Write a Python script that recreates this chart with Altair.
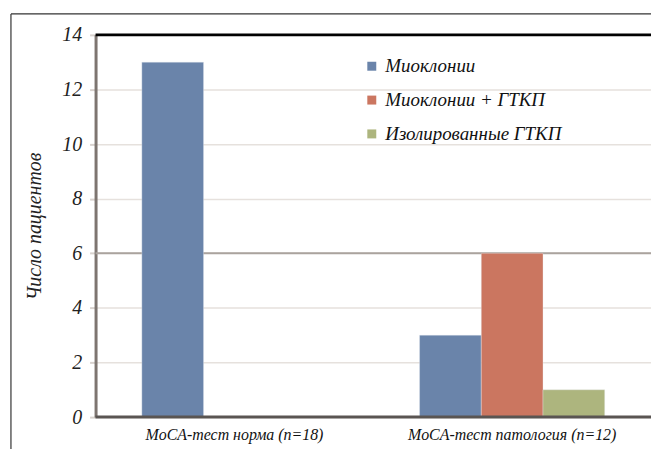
import altair as alt
import pandas as pd

# Patient counts by MoCA result and seizure type
groups = ["MoCA-тест норма (n=18)", "MoCA-тест патология (n=12)"]
series = ["Миоклонии", "Миоклонии + ГТКП", "Изолированные ГТКП"]
counts_norm = [13, 0, 0]
counts_path = [3, 6, 1]
colors = ["#6a84aa", "#cb7660", "#adb57e"]
y_ticks = [0, 2, 4, 6, 8, 10, 12, 14]
emphasis_level = [6]

rows = []
for g, vals in zip(groups, [counts_norm, counts_path]):
    for s, v in zip(series, vals):
        rows.append({"group": g, "series": s, "count": v})
df = pd.DataFrame(rows)

W, H = 558, 384
FONT = "Liberation Serif"

y_scale = alt.Scale(domain=[0, 14], nice=False)

bars = alt.Chart(df).mark_bar(stroke="#e8ecf2", strokeWidth=0.6, strokeOpacity=0.6).encode(
    x=alt.X("group:N", sort=groups, title=None,
            scale=alt.Scale(paddingInner=0, paddingOuter=0),
            axis=alt.Axis(labelAngle=0, labelFontStyle="italic",
                          labelFontSize=16, labelColor="#111", labelPadding=9,
                          labelLimit=400, ticks=False, domain=False)),
    xOffset=alt.XOffset("series:N", sort=series,
                        scale=alt.Scale(paddingInner=0, paddingOuter=0.75)),
    y=alt.Y("count:Q", scale=y_scale, title="Число пациентов",
            axis=alt.Axis(values=y_ticks, labelFontStyle="italic",
                          labelFontSize=20, labelColor="#222", labelPadding=8,
                          tickColor="#d8d2ce", tickSize=6, tickWidth=2,
                          gridColor="#e6e1dd", gridWidth=1.5,
                          domainColor="#7d7570", domainWidth=3,
                          titleFontStyle="italic", titleFontWeight="normal",
                          titleFontSize=20, titleColor="#222", titlePadding=17)),
    color=alt.Color("series:N", sort=series,
                    scale=alt.Scale(domain=series, range=colors),
                    legend=alt.Legend(title=None, orient="none", legendX=268, legendY=22,
                                      symbolType="square", symbolSize=81,
                                      symbolStrokeWidth=0,
                                      labelFontStyle="italic", labelFontSize=19,
                                      labelColor="#111", rowPadding=14, labelOffset=4,
                                      labelLimit=400)),
)

# Darker reference line at the level of 6 patients
emph = alt.Chart(pd.DataFrame({"level": emphasis_level})).mark_rule(
    color="#aaa39e", strokeWidth=2
).encode(y=alt.Y("level:Q", scale=y_scale))

# Heavy top border and bottom baseline of the plot area
top_line = alt.Chart(pd.DataFrame({"v": [14]})).mark_rule(color="#000", strokeWidth=3).encode(
    y=alt.Y("v:Q", scale=y_scale))
base_line = alt.Chart(pd.DataFrame({"v": [0]})).mark_rule(color="#5a5552", strokeWidth=3).encode(
    y=alt.Y("v:Q", scale=y_scale))

# Thin outer frame around the figure
frame_left = alt.Chart(pd.DataFrame({"a": [0]})).mark_rule(color="#333", strokeWidth=1.2).encode(
    x=alt.value(-85), y=alt.value(-21), y2=alt.value(H + 40))
frame_top = alt.Chart(pd.DataFrame({"a": [0]})).mark_rule(color="#333", strokeWidth=1.2).encode(
    x=alt.value(-85), x2=alt.value(W + 10), y=alt.value(-21))

chart = alt.layer(emph, bars, top_line, base_line, frame_left, frame_top).properties(
    width=W, height=H,
    autosize=alt.AutoSizeParams(type="none"),
    padding={"left": 96, "top": 34, "right": 0, "bottom": 31},
).configure(
    background="white", font=FONT
).configure_axis(
    labelFont=FONT, titleFont=FONT
).configure_legend(
    labelFont=FONT, titleFont=FONT
).configure_view(stroke=None)

chart.save("out.html", embed_options={"renderer": "svg", "actions": False})
